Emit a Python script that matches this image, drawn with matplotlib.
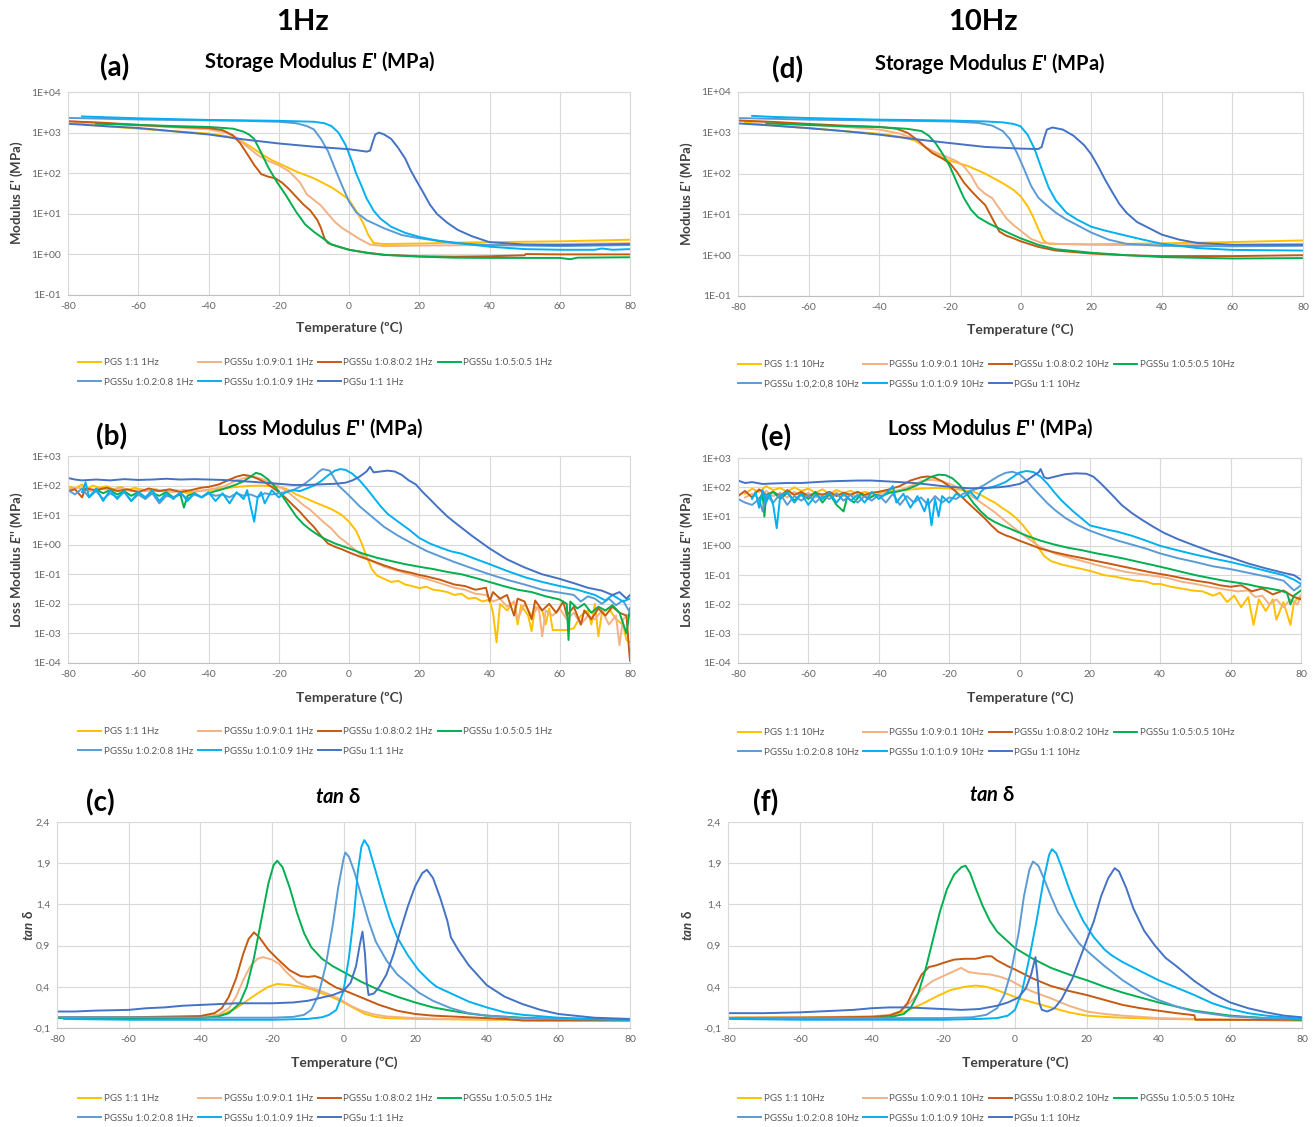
import matplotlib
matplotlib.use("Agg")
import matplotlib.pyplot as plt
from matplotlib.ticker import NullLocator

plt.rcParams['font.family'] = ['Lato', 'DejaVu Sans']
plt.rcParams['mathtext.fontset'] = 'custom'
plt.rcParams['mathtext.rm'] = 'Lato:bold'
plt.rcParams['mathtext.it'] = 'Lato:italic:bold'
plt.rcParams['mathtext.bf'] = 'Lato:bold'

# -------- Series names / colours --------
names = ["PGS 1:1", "PGSSu 1:0.9:0.1", "PGSSu 1:0.8:0.2", "PGSSu 1:0.5:0.5",
         "PGSSu 1:0.2:0.8", "PGSSu 1:0.1:0.9", "PGSu 1:1"]
names_d = ["PGS 1:1", "PGSSu 1:0.9:0.1", "PGSSu 1:0.8:0.2", "PGSSu 1:0.5:0.5",
           "PGSSu 1:0,2:0,8", "PGSSu 1:0.1:0.9", "PGSu 1:1"]
colors = ["#FFC000", "#F4B183", "#C55A11", "#00B050", "#5B9BD5", "#00B0F0", "#4472C4"]

log_ticks_a = [0.1, 1, 10, 100, 1000, 10000]
log_labels_a = ["1E-01", "1E+00", "1E+01", "1E+02", "1E+03", "1E+04"]
log_ticks_b = [1e-4, 1e-3, 1e-2, 1e-1, 1, 10, 100, 1000]
log_labels_b = ["1E-04", "1E-03", "1E-02", "1E-01", "1E+00", "1E+01", "1E+02", "1E+03"]
tan_ticks = [-0.1, 0.4, 0.9, 1.4, 1.9, 2.4]
tan_labels = ["-0,1", "0,4", "0,9", "1,4", "1,9", "2,4"]
x_ticks = [-80, -60, -40, -20, 0, 20, 40, 60, 80]

# -------- (a) Storage modulus 1Hz (T degC, MPa) --------
a_pgs = [(-78, 1700), (-70, 1450), (-60, 1250), (-50, 1080), (-40, 950), (-35, 820), (-31, 650), (-28, 450),
         (-25, 300), (-22, 210), (-19, 160), (-15, 110), (-10, 75), (-5, 45), (-2, 30), (0, 22), (2, 12),
         (4, 6), (5.5, 3), (7, 1.9), (10, 1.8), (20, 1.85), (30, 1.95), (40, 2.0), (60, 2.1), (80, 2.3)]
a_s09 = [(-80, 1900), (-70, 1700), (-60, 1500), (-50, 1350), (-40, 1200), (-35, 1000), (-32, 750), (-29, 450),
         (-26, 280), (-23, 200), (-20, 158), (-17, 110), (-14, 60), (-12, 30), (-10, 22), (-8, 16), (-6, 10),
         (-4, 6.3), (-2, 4.5), (0, 3.5), (3, 2.4), (6, 1.75), (10, 1.6), (20, 1.65), (40, 1.7), (60, 1.8), (80, 1.9)]
a_s08 = [(-80, 1900), (-70, 1750), (-60, 1550), (-50, 1400), (-40, 1300), (-36, 1150), (-33, 850), (-31, 550),
         (-29, 300), (-27, 160), (-25, 95), (-23, 82), (-21, 75), (-19, 58), (-17, 40), (-15, 26), (-13, 17),
         (-11, 12), (-9, 7), (-8, 4.5), (-7, 2.5), (-6, 1.9), (-3, 1.55), (0, 1.3), (5, 1.1), (10, 0.98),
         (20, 0.9), (30, 0.88), (40, 0.9), (50, 0.95), (50.3, 1.02), (60, 1.0), (80, 1.0)]
a_s05 = [(-72, 1650), (-60, 1550), (-50, 1450), (-40, 1380), (-33, 1250), (-30, 1050), (-28.5, 900), (-27, 700),
         (-25, 320), (-23, 140), (-20.5, 60), (-18, 29), (-15, 11), (-12.5, 5.5), (-10, 3.6), (-5, 1.75),
         (0, 1.3), (5, 1.1), (10, 0.97), (20, 0.88), (30, 0.83), (40, 0.82), (60, 0.82), (63, 0.76), (65, 0.83),
         (80, 0.85)]
a_s02 = [(-80, 2300), (-70, 2200), (-60, 2100), (-50, 2050), (-40, 2000), (-30, 1950), (-20, 1850), (-15, 1700),
         (-12, 1450), (-10, 1200), (-8, 700), (-6, 350), (-4, 130), (-2, 50), (0, 20), (2, 11), (5, 7),
         (10, 4.4), (15, 3.0), (20, 2.5), (30, 1.9), (40, 1.7), (60, 1.6), (80, 1.7)]
a_s01 = [(-76, 2500), (-70, 2400), (-60, 2250), (-50, 2150), (-40, 2050), (-30, 2000), (-20, 1950), (-10, 1850),
         (-7, 1700), (-5, 1450), (-3, 1000), (-1, 500), (1, 180), (2, 100), (3.5, 50), (5, 24), (7, 12),
         (9, 7.5), (12, 4.8), (16, 3.4), (20, 2.7), (25, 2.2), (30, 1.95), (40, 1.55), (50, 1.35), (60, 1.3),
         (70, 1.3), (72, 1.4), (75, 1.3), (80, 1.35)]
a_gsu = [(-80, 1650), (-70, 1450), (-60, 1300), (-50, 1080), (-40, 900), (-30, 680), (-20, 540), (-10, 450),
         (0, 390), (3, 360), (5, 340), (6, 360), (6.8, 600), (7.5, 900), (8.5, 1000), (10, 900), (12, 700),
         (14, 420), (16, 230), (17.5, 120), (19, 70), (21, 35), (23, 17), (25, 10), (28, 6), (31, 4), (35, 2.8),
         (40, 2.0), (50, 1.75), (60, 1.7), (80, 1.8)]

# -------- (d) Storage modulus 10Hz --------
d_pgs = [(-78, 1800), (-70, 1500), (-60, 1300), (-50, 1100), (-40, 950), (-34, 800), (-30, 650), (-27, 450),
         (-24, 300), (-21, 220), (-18, 185), (-15, 155), (-10, 100), (-5, 58), (-2, 40), (0, 28), (2, 16),
         (3.5, 9), (5, 4.5), (6.5, 2.3), (8, 1.9), (20, 1.85), (40, 1.95), (60, 2.1), (80, 2.3)]
d_s09 = [(-80, 2000), (-70, 1800), (-60, 1600), (-50, 1400), (-40, 1200), (-34, 950), (-30, 700), (-27, 450),
         (-24, 330), (-21, 260), (-18, 200), (-16, 150), (-14, 90), (-12, 45), (-10, 32), (-8, 25), (-6, 14),
         (-4, 8), (-2, 5.5), (0, 4), (3, 2.5), (6, 2.0), (10, 1.9), (20, 1.8), (40, 1.75), (60, 1.8), (80, 1.9)]
d_s08 = [(-80, 2000), (-70, 1850), (-60, 1650), (-50, 1500), (-40, 1400), (-35, 1250), (-32, 1000), (-29, 650),
         (-27, 450), (-25, 320), (-22, 230), (-20, 180), (-18, 110), (-16, 60), (-14, 38), (-12, 25), (-10, 17),
         (-8, 8), (-6, 3.8), (-4, 3.0), (-2, 2.6), (0, 2.2), (5, 1.6), (10, 1.3), (20, 1.1), (30, 1.0),
         (40, 0.95), (60, 0.95), (80, 1.0)]
d_s05 = [(-72, 1700), (-60, 1550), (-50, 1450), (-40, 1380), (-32, 1250), (-28, 1100), (-26, 850), (-24, 550),
         (-22, 300), (-20, 150), (-18, 60), (-16, 25), (-14, 13), (-12, 8.5), (-9, 6), (-6, 4.5), (-3, 3.4),
         (0, 2.6), (5, 1.8), (10, 1.4), (20, 1.15), (30, 1.0), (40, 0.9), (60, 0.83), (80, 0.85)]
d_s02 = [(-80, 2300), (-70, 2200), (-60, 2100), (-50, 2050), (-40, 2000), (-30, 1950), (-20, 1900), (-12, 1750),
         (-8, 1500), (-5, 1100), (-3, 700), (-1, 320), (1, 130), (3, 50), (5, 26), (7, 18), (10, 11), (13, 7.5),
         (16, 5.5), (20, 3.6), (25, 2.4), (30, 1.9), (40, 1.7), (60, 1.65), (80, 1.7)]
d_s01 = [(-76, 2600), (-70, 2450), (-60, 2300), (-50, 2200), (-40, 2100), (-30, 2050), (-20, 2000), (-10, 1900),
         (-5, 1800), (-2, 1650), (0, 1450), (2, 900), (4, 400), (6, 130), (8, 45), (10, 22), (13, 11), (16, 7.5),
         (20, 5), (24, 4), (28, 3.3), (33, 2.6), (40, 1.9), (50, 1.5), (60, 1.35), (80, 1.3)]
d_gsu = [(-80, 1700), (-70, 1500), (-60, 1300), (-50, 1100), (-40, 900), (-30, 700), (-20, 560), (-10, 450),
         (0, 410), (5, 400), (6, 450), (6.8, 800), (7.5, 1200), (9, 1350), (12, 1200), (15, 850), (18, 500),
         (20, 300), (22, 150), (24, 70), (26, 35), (28, 18), (30, 11), (33, 6.5), (36, 4.8), (40, 3.2),
         (45, 2.4), (50, 2.0), (60, 1.8), (80, 1.8)]

# -------- (b) Loss modulus 1Hz --------
b_pgs = [(-80, 95), (-78, 80), (-76, 110), (-75, 70), (-73, 100), (-71, 85), (-69, 95), (-67, 75), (-65, 90),
         (-63, 70), (-61, 85), (-58, 65), (-55, 75), (-52, 60), (-49, 70), (-46, 55), (-43, 65), (-40, 70),
         (-36, 80), (-32, 90), (-28, 98), (-25, 100), (-22, 95), (-19, 85), (-17, 70), (-15, 50), (-12, 36),
         (-10, 28), (-7, 20), (-5, 16), (-2, 10), (0, 6), (2, 3), (3.5, 1.2), (5, 0.4), (6.5, 0.15), (8, 0.09),
         (10, 0.07), (12, 0.055), (14, 0.06), (16, 0.045), (18, 0.04), (20, 0.034), (22, 0.038), (24, 0.03),
         (26, 0.028), (28, 0.025), (30, 0.02), (32, 0.022), (34, 0.015), (36, 0.016), (38, 0.012), (40, 0.014),
         (41, 0.005), (42, 0.0005), (43, 0.01), (45, 0.006), (47, 0.012), (48, 0.002), (49, 0.009), (51, 0.004),
         (52, 0.0012), (53, 0.008), (55, 0.006), (56, 0.002), (57, 0.007), (58, 0.0013), (60, 0.0013),
         (62, 0.0013), (64, 0.0015), (66, 0.004), (68, 0.006), (69, 0.002), (70, 0.01), (71, 0.0008),
         (72, 0.005), (74, 0.007), (76, 0.003), (78, 0.002), (79, 0.0006), (80, 0.0005)]
b_s09 = [(-80, 75), (-77, 85), (-74, 65), (-71, 80), (-68, 70), (-65, 80), (-62, 65), (-59, 75), (-56, 60),
         (-53, 70), (-50, 60), (-47, 72), (-44, 62), (-41, 70), (-38, 80), (-35, 100), (-32, 150), (-29, 190),
         (-27, 200), (-25, 170), (-23, 140), (-21, 110), (-19, 80), (-17, 55), (-15, 35), (-13, 22), (-11, 15),
         (-9, 9), (-7, 5.5), (-5, 3.5), (-3, 1.9), (0, 1.0), (3, 0.5), (6, 0.3), (10, 0.18), (14, 0.13),
         (18, 0.095), (20, 0.08), (22, 0.07), (26, 0.05), (30, 0.035), (33, 0.03), (36, 0.022), (39, 0.02),
         (41, 0.012), (43, 0.015), (45, 0.008), (47, 0.012), (48, 0.003), (50, 0.01), (52, 0.004), (54, 0.008),
         (55, 0.0008), (56, 0.006), (58, 0.004), (60, 0.007), (62, 0.003), (64, 0.005), (66, 0.002),
         (68, 0.004), (70, 0.003), (72, 0.006), (74, 0.002), (76, 0.004), (77, 0.0004), (78, 0.003), (80, 0.005)]
b_s08 = [(-80, 65), (-78, 75), (-76, 40), (-75, 80), (-72, 70), (-69, 85), (-66, 65), (-63, 75), (-60, 60),
         (-57, 80), (-54, 65), (-51, 75), (-48, 60), (-45, 70), (-42, 85), (-40, 90), (-37, 110), (-34, 160),
         (-32, 200), (-30, 230), (-28, 210), (-26, 170), (-24, 130), (-22, 90), (-20, 60), (-18, 38), (-16, 22),
         (-14, 13), (-12, 7), (-10, 4), (-8, 2), (-6, 1.1), (-4, 0.85), (-2, 0.7), (0, 0.55), (3, 0.4), (6, 0.3),
         (10, 0.2), (14, 0.14), (18, 0.11), (20, 0.095), (22, 0.085), (26, 0.065), (30, 0.045), (33, 0.04),
         (36, 0.03), (39, 0.035), (40, 0.012), (41, 0.025), (43, 0.015), (45, 0.02), (47, 0.004), (48, 0.015),
         (50, 0.012), (52, 0.003), (53, 0.013), (55, 0.006), (57, 0.01), (59, 0.005), (61, 0.012), (62, 0.004),
         (64, 0.008), (66, 0.002), (67, 0.006), (69, 0.003), (71, 0.007), (73, 0.004), (75, 0.008), (77, 0.005),
         (79, 0.004), (79.7, 0.0003), (80, 0.00012)]
b_s05 = [(-72, 75), (-70, 55), (-68, 70), (-66, 50), (-64, 65), (-62, 45), (-60, 60), (-58, 40), (-56, 55),
         (-54, 45), (-52, 60), (-50, 40), (-48, 50), (-47, 18), (-46, 45), (-44, 55), (-42, 40), (-40, 55),
         (-38, 65), (-36, 75), (-34, 90), (-32, 110), (-30, 140), (-28, 200), (-26.5, 270), (-25, 240),
         (-23, 160), (-21, 90), (-19, 45), (-17, 20), (-15, 9), (-13, 5), (-11, 3.2), (-9, 2.2), (-7, 1.6),
         (-4, 1.1), (0, 0.75), (4, 0.5), (8, 0.36), (12, 0.28), (16, 0.22), (20, 0.18), (24, 0.15), (28, 0.12),
         (32, 0.1), (36, 0.075), (40, 0.055), (44, 0.04), (48, 0.03), (52, 0.025), (56, 0.018), (60, 0.014),
         (62, 0.01), (62.5, 0.0006), (63, 0.012), (65, 0.007), (67, 0.01), (69, 0.005), (71, 0.008), (73, 0.006),
         (75, 0.009), (77, 0.005), (79, 0.001), (80, 0.007)]
b_s02 = [(-80, 70), (-78, 50), (-76, 80), (-74, 40), (-72, 65), (-70, 35), (-68, 55), (-66, 40), (-64, 60),
         (-62, 30), (-60, 50), (-58, 35), (-56, 55), (-54, 25), (-52, 45), (-50, 40), (-48, 55), (-46, 35),
         (-44, 50), (-42, 40), (-40, 55), (-38, 45), (-36, 50), (-34, 40), (-32, 55), (-30, 45), (-28, 50),
         (-26, 40), (-24, 55), (-22, 50), (-20, 55), (-18, 60), (-16, 70), (-14, 90), (-12, 130), (-10, 200),
         (-8.5, 300), (-7.5, 360), (-5.5, 320), (-3, 100), (-1, 60), (1, 35), (3, 20), (6, 10), (10, 4),
         (14, 2.0), (18, 1.1), (22, 0.62), (26, 0.4), (30, 0.26), (35, 0.16), (40, 0.1), (45, 0.065),
         (50, 0.045), (55, 0.03), (60, 0.024), (64, 0.02), (66, 0.012), (68, 0.018), (70, 0.015), (72, 0.01),
         (74, 0.015), (76, 0.009), (78, 0.013), (80, 0.005)]
b_s01 = [(-76, 60), (-75, 130), (-74, 40), (-72, 80), (-70, 30), (-68, 70), (-66, 35), (-64, 65), (-62, 30),
         (-60, 60), (-58, 40), (-56, 70), (-54, 30), (-52, 55), (-50, 35), (-48, 60), (-46, 30), (-44, 55),
         (-42, 40), (-40, 60), (-38, 30), (-36, 55), (-34, 25), (-32, 60), (-30, 35), (-29, 70), (-28, 20),
         (-27, 6), (-26, 40), (-25, 60), (-24, 25), (-22, 70), (-20, 40), (-18, 60), (-16, 70), (-14, 65),
         (-12, 80), (-10, 100), (-8, 140), (-6, 220), (-4, 320), (-2.5, 360), (-1, 340), (1, 250), (3, 150),
         (5, 80), (7, 40), (9, 20), (11, 11), (14, 6), (17, 3.3), (20, 1.7), (23, 1.1), (26, 0.8), (29, 0.6),
         (32, 0.5), (36, 0.33), (40, 0.22), (45, 0.13), (50, 0.08), (55, 0.055), (60, 0.04), (65, 0.03),
         (70, 0.02), (73, 0.013), (75, 0.02), (78, 0.012), (80, 0.015)]
b_gsu = [(-80, 180), (-78, 160), (-76, 150), (-72, 160), (-68, 150), (-64, 165), (-60, 155), (-56, 160),
         (-52, 170), (-48, 160), (-44, 165), (-40, 160), (-36, 155), (-32, 145), (-28, 135), (-24, 125),
         (-20, 115), (-16, 105), (-12, 105), (-8, 110), (-4, 115), (-1, 125), (1, 150), (3, 200), (5, 300),
         (6, 430), (7, 280), (9, 300), (11, 320), (13, 300), (15, 230), (17, 150), (19, 110), (21, 60),
         (23, 35), (25, 20), (28, 9), (30, 5.8), (35, 2), (40, 0.75), (45, 0.32), (50, 0.17), (55, 0.1),
         (60, 0.07), (64, 0.05), (68, 0.035), (72, 0.028), (75, 0.02), (77, 0.025), (79, 0.015), (80, 0.02)]

# -------- (e) Loss modulus 10Hz --------
e_pgs = [(-78, 60), (-76, 90), (-74, 70), (-72, 110), (-70, 80), (-68, 95), (-66, 70), (-64, 100), (-62, 75),
         (-60, 90), (-58, 65), (-56, 85), (-54, 60), (-52, 80), (-50, 65), (-48, 75), (-46, 60), (-44, 70),
         (-42, 60), (-40, 70), (-36, 75), (-32, 82), (-28, 90), (-24, 95), (-20, 90), (-16, 80), (-13, 70),
         (-11, 55), (-9, 40), (-7, 30), (-5, 20), (-3, 14), (-1, 9), (1, 5), (3, 2.5), (5, 1.0), (7, 0.45),
         (9, 0.3), (12, 0.23), (15, 0.19), (18, 0.16), (21, 0.13), (24, 0.1), (27, 0.09), (30, 0.075),
         (33, 0.065), (36, 0.06), (38, 0.05), (40, 0.05), (43, 0.04), (46, 0.035), (49, 0.03), (52, 0.028),
         (55, 0.02), (57, 0.025), (59, 0.012), (61, 0.02), (63, 0.008), (65, 0.018), (66.5, 0.002), (68, 0.015),
         (70, 0.006), (72, 0.015), (73, 0.003), (75, 0.012), (77, 0.002), (78, 0.012), (80, 0.02)]
e_s09 = [(-78, 45), (-76, 60), (-74, 40), (-72, 75), (-70, 50), (-68, 65), (-66, 45), (-64, 70), (-62, 50),
         (-60, 65), (-58, 45), (-56, 60), (-54, 50), (-52, 65), (-50, 50), (-48, 60), (-46, 45), (-44, 55),
         (-42, 50), (-40, 60), (-37, 65), (-34, 80), (-31, 110), (-28, 160), (-25, 180), (-22, 160), (-19, 120),
         (-16, 80), (-13, 45), (-10, 25), (-7, 14), (-4, 7), (-2, 4.5), (0, 3), (3, 1.6), (6, 0.9), (10, 0.55),
         (14, 0.4), (18, 0.3), (22, 0.22), (26, 0.17), (30, 0.13), (34, 0.11), (38, 0.095), (42, 0.08),
         (46, 0.06), (50, 0.05), (54, 0.04), (58, 0.033), (62, 0.028), (65, 0.03), (67, 0.018), (69, 0.02),
         (71, 0.01), (73, 0.015), (75, 0.008), (77, 0.015), (79, 0.01), (80, 0.02)]
e_s08 = [(-80, 50), (-78, 75), (-76, 45), (-74, 85), (-72, 55), (-70, 70), (-68, 50), (-66, 80), (-64, 55),
         (-62, 70), (-60, 50), (-58, 65), (-56, 55), (-54, 70), (-52, 50), (-50, 65), (-48, 55), (-46, 70),
         (-44, 55), (-42, 65), (-40, 70), (-37, 85), (-34, 110), (-31, 170), (-28, 220), (-26, 235), (-24, 210),
         (-22, 160), (-20, 110), (-18, 70), (-16, 42), (-14, 25), (-12, 15), (-10, 9), (-8, 5), (-6, 3),
         (-4, 2.3), (-2, 1.9), (0, 1.5), (3, 1.1), (6, 0.8), (10, 0.6), (14, 0.47), (18, 0.38), (22, 0.3),
         (26, 0.24), (30, 0.19), (34, 0.15), (38, 0.12), (42, 0.1), (46, 0.08), (50, 0.065), (54, 0.055),
         (57, 0.045), (60, 0.04), (63, 0.045), (66, 0.028), (69, 0.035), (72, 0.022), (75, 0.03), (78, 0.018),
         (80, 0.015)]
e_s05 = [(-74, 40), (-73, 60), (-72.5, 10), (-72, 50), (-70, 70), (-68, 40), (-66, 65), (-64, 35), (-62, 60),
         (-60, 40), (-58, 70), (-56, 30), (-54, 60), (-52, 25), (-50, 15), (-49, 45), (-47, 30), (-45, 60),
         (-43, 40), (-41, 55), (-39, 50), (-37, 65), (-35, 70), (-32, 85), (-29, 120), (-27, 170), (-25, 230),
         (-23, 270), (-21, 260), (-19, 200), (-17, 120), (-15, 60), (-13, 28), (-11, 15), (-9, 9), (-7, 6.5),
         (-5, 5), (-3, 4), (0, 2.8), (3, 2.0), (6, 1.5), (10, 1.1), (14, 0.85), (18, 0.7), (22, 0.55),
         (26, 0.45), (30, 0.36), (34, 0.28), (38, 0.22), (42, 0.17), (46, 0.13), (50, 0.1), (54, 0.08),
         (58, 0.065), (62, 0.055), (65, 0.048), (68, 0.04), (71, 0.035), (74, 0.03), (76, 0.025), (77, 0.01),
         (78, 0.02), (80, 0.03)]
e_s02 = [(-80, 40), (-78, 30), (-76, 25), (-74, 40), (-73, 15), (-72, 55), (-70, 30), (-68, 60), (-66, 25),
         (-64, 50), (-62, 35), (-60, 55), (-58, 30), (-56, 50), (-54, 40), (-52, 60), (-50, 35), (-48, 55),
         (-46, 30), (-44, 50), (-42, 35), (-40, 55), (-38, 30), (-36, 60), (-34, 25), (-32, 50), (-30, 30),
         (-28, 45), (-26, 25), (-24, 50), (-22, 30), (-20, 45), (-18, 40), (-16, 60), (-14, 75), (-12, 90),
         (-10, 120), (-8, 170), (-6, 240), (-4, 310), (-2, 340), (0, 280), (2, 170), (4, 90), (6, 50), (8, 28),
         (10, 17), (13, 9), (16, 5.5), (20, 3.3), (24, 2.2), (28, 1.5), (32, 1.1), (36, 0.8), (40, 0.55),
         (45, 0.38), (50, 0.28), (55, 0.2), (60, 0.16), (65, 0.12), (70, 0.09), (75, 0.065), (78, 0.03),
         (80, 0.045)]
e_s01 = [(-76, 40), (-75, 70), (-74, 20), (-73, 80), (-72, 30), (-71, 60), (-70, 25), (-69, 4), (-68, 50),
         (-66, 70), (-64, 30), (-62, 60), (-60, 25), (-58, 55), (-56, 40), (-54, 65), (-52, 30), (-50, 60),
         (-48, 35), (-46, 55), (-44, 30), (-42, 70), (-40, 40), (-38, 60), (-36, 110), (-35, 30), (-33, 60),
         (-31, 20), (-29, 50), (-27, 15), (-26, 40), (-25, 5), (-24, 40), (-23, 10), (-22, 50), (-20, 30),
         (-18, 60), (-16, 45), (-14, 70), (-12, 40), (-11, 70), (-10, 90), (-8, 100), (-6, 120), (-4, 150),
         (-2, 220), (0, 320), (2, 360), (4, 330), (6, 230), (8, 130), (10, 65), (12, 35), (15, 16), (18, 8),
         (20, 5), (24, 3.8), (28, 3), (32, 2.2), (36, 1.5), (40, 1.0), (45, 0.7), (50, 0.5), (55, 0.37),
         (60, 0.28), (65, 0.2), (70, 0.14), (75, 0.1), (78, 0.07), (80, 0.05)]
e_gsu = [(-80, 170), (-78, 140), (-76, 150), (-73, 130), (-70, 135), (-66, 140), (-62, 140), (-58, 150),
         (-54, 160), (-50, 165), (-46, 170), (-42, 170), (-38, 160), (-34, 150), (-30, 140), (-26, 125),
         (-22, 110), (-18, 100), (-14, 92), (-10, 95), (-6, 100), (-3, 110), (0, 130), (2, 170), (4, 250),
         (5.5, 330), (6, 420), (7, 220), (8, 200), (10, 230), (13, 280), (16, 300), (19, 290), (21, 230),
         (23, 140), (25, 80), (27, 45), (29, 25), (32, 13), (35, 7.5), (38, 4.5), (41, 2.8), (45, 1.7),
         (50, 1.0), (55, 0.6), (60, 0.4), (65, 0.25), (70, 0.17), (75, 0.12), (78, 0.1), (80, 0.07)]

# -------- (c) tan delta 1Hz --------
c_pgs = [(-77, 0.03), (-60, 0.03), (-45, 0.03), (-40, 0.035), (-36, 0.05), (-33, 0.08), (-30, 0.14), (-27, 0.23),
         (-24, 0.32), (-21, 0.40), (-18.5, 0.435), (-15, 0.42), (-12, 0.40), (-9, 0.37), (-6, 0.32), (-3, 0.27),
         (0, 0.21), (3, 0.14), (6, 0.07), (9, 0.035), (12, 0.02), (20, 0.01), (40, 0.0), (60, -0.005), (80, -0.005)]
c_s09 = [(-80, 0.03), (-60, 0.03), (-40, 0.035), (-35, 0.06), (-32, 0.14), (-30, 0.28), (-28, 0.48), (-26, 0.65),
         (-24, 0.74), (-22.5, 0.76), (-20, 0.73), (-18, 0.68), (-16, 0.58), (-13, 0.46), (-10, 0.40), (-7, 0.36),
         (-4, 0.31), (-1, 0.25), (2, 0.17), (5, 0.11), (8, 0.07), (12, 0.04), (20, 0.02), (30, 0.01), (50, 0.0),
         (80, -0.005)]
c_s08 = [(-80, 0.03), (-60, 0.03), (-40, 0.045), (-36, 0.08), (-34, 0.14), (-32, 0.28), (-30, 0.5), (-28, 0.8),
         (-26.5, 0.98), (-25, 1.06), (-23.5, 1.0), (-21, 0.85), (-18, 0.72), (-15, 0.6), (-12, 0.53), (-10, 0.52),
         (-8, 0.53), (-6, 0.5), (-4, 0.44), (-2, 0.39), (0, 0.36), (5, 0.27), (10, 0.18), (15, 0.11), (20, 0.07),
         (25, 0.05), (30, 0.04), (35, 0.03), (40, 0.02), (45, 0.01), (48, 0.0), (50, -0.01), (80, -0.01)]
c_s05 = [(-80, 0.02), (-60, 0.02), (-40, 0.02), (-35, 0.04), (-32, 0.08), (-29, 0.2), (-27, 0.4), (-25, 0.75),
         (-23, 1.2), (-21, 1.65), (-19.5, 1.88), (-18.5, 1.93), (-17, 1.85), (-15, 1.6), (-13, 1.3), (-11, 1.05),
         (-9, 0.88), (-6, 0.74), (-3, 0.65), (0, 0.58), (5, 0.46), (10, 0.36), (15, 0.28), (20, 0.21),
         (25, 0.15), (30, 0.11), (35, 0.075), (40, 0.05), (50, 0.025), (60, 0.01), (80, 0.0)]
c_s02 = [(-80, 0.03), (-60, 0.03), (-40, 0.025), (-20, 0.025), (-14, 0.035), (-11, 0.06), (-9, 0.12), (-7, 0.3),
         (-5, 0.65), (-3, 1.15), (-1.5, 1.6), (0, 1.95), (0.5, 2.03), (1.5, 1.98), (3, 1.8), (5, 1.5), (7, 1.2),
         (9, 0.95), (12, 0.72), (15, 0.55), (18, 0.44), (21, 0.33), (25, 0.23), (30, 0.14), (35, 0.08),
         (40, 0.05), (50, 0.02), (60, 0.01), (80, 0.0)]
c_s01 = [(-78, 0.01), (-60, 0.0), (-40, 0.0), (-20, 0.0), (-10, 0.01), (-6, 0.03), (-4, 0.06), (-2, 0.12),
         (0, 0.35), (1.5, 0.75), (3, 1.3), (4, 1.8), (5, 2.1), (5.8, 2.18), (7, 2.1), (9, 1.8), (11, 1.5),
         (13, 1.22), (15, 1.0), (18, 0.78), (21, 0.6), (24, 0.47), (26, 0.4), (30, 0.32), (35, 0.22), (40, 0.15),
         (45, 0.09), (50, 0.06), (60, 0.025), (70, 0.01), (80, 0.0)]
c_gsu = [(-80, 0.1), (-75, 0.1), (-70, 0.11), (-65, 0.115), (-60, 0.12), (-55, 0.14), (-50, 0.15), (-45, 0.17),
         (-40, 0.18), (-35, 0.19), (-30, 0.2), (-20, 0.2), (-14, 0.21), (-10, 0.23), (-6, 0.27), (-3, 0.3),
         (0, 0.35), (2, 0.45), (3.5, 0.65), (4.5, 0.9), (5.3, 1.07), (6, 0.8), (6.5, 0.45), (7, 0.3), (8.5, 0.32),
         (10, 0.4), (12, 0.55), (14, 0.8), (16, 1.1), (18, 1.38), (20, 1.62), (22, 1.78), (23.3, 1.82),
         (25, 1.72), (27, 1.48), (29, 1.2), (30, 1.0), (32, 0.85), (35, 0.66), (40, 0.42), (45, 0.28),
         (50, 0.19), (55, 0.12), (60, 0.07), (70, 0.025), (80, 0.01)]

# -------- (f) tan delta 10Hz --------
f_pgs = [(-78, 0.03), (-60, 0.03), (-45, 0.035), (-38, 0.04), (-34, 0.06), (-30, 0.11), (-26, 0.19), (-22, 0.28),
         (-18, 0.36), (-14, 0.4), (-11, 0.415), (-8, 0.4), (-5, 0.36), (-2, 0.31), (1, 0.26), (5, 0.21),
         (10, 0.15), (15, 0.09), (20, 0.05), (25, 0.035), (30, 0.025), (40, 0.01), (50, 0.005), (60, 0.0),
         (80, -0.01)]
f_s09 = [(-80, 0.03), (-60, 0.03), (-40, 0.04), (-35, 0.06), (-32, 0.1), (-29, 0.22), (-26, 0.37), (-23, 0.47),
         (-20, 0.53), (-17, 0.59), (-15, 0.63), (-13, 0.58), (-10, 0.56), (-7, 0.55), (-4, 0.52), (-1, 0.47),
         (2, 0.4), (5, 0.34), (10, 0.26), (15, 0.17), (20, 0.1), (25, 0.07), (30, 0.05), (40, 0.02), (50, 0.01),
         (60, 0.0), (80, -0.01)]
f_s08 = [(-80, 0.02), (-60, 0.025), (-40, 0.035), (-35, 0.05), (-32, 0.1), (-30, 0.2), (-28, 0.38), (-26, 0.55),
         (-24, 0.64), (-22, 0.66), (-20, 0.69), (-17, 0.73), (-14, 0.74), (-11, 0.74), (-8, 0.77), (-6.5, 0.77),
         (-5, 0.72), (-2, 0.65), (0, 0.61), (5, 0.5), (10, 0.41), (15, 0.35), (20, 0.3), (25, 0.24), (30, 0.18),
         (35, 0.14), (40, 0.11), (45, 0.08), (50, 0.055), (50.3, 0.0), (80, 0.0)]
f_s05 = [(-80, 0.02), (-60, 0.02), (-40, 0.02), (-35, 0.03), (-31, 0.07), (-29, 0.15), (-27, 0.32), (-25, 0.6),
         (-23, 0.95), (-21, 1.3), (-19, 1.58), (-17, 1.76), (-15, 1.85), (-13.8, 1.87), (-12.5, 1.78),
         (-11, 1.6), (-9, 1.38), (-7, 1.2), (-5, 1.07), (-2, 0.95), (0, 0.87), (5, 0.74), (10, 0.63), (15, 0.55),
         (20, 0.48), (25, 0.4), (30, 0.33), (35, 0.27), (40, 0.21), (45, 0.16), (50, 0.11), (55, 0.08),
         (60, 0.05), (70, 0.02), (80, 0.0)]
f_s02 = [(-80, 0.02), (-60, 0.02), (-40, 0.02), (-20, 0.02), (-12, 0.03), (-8, 0.06), (-5, 0.14), (-3, 0.3),
         (-1, 0.6), (1, 1.05), (2.5, 1.5), (4, 1.82), (5, 1.92), (6.5, 1.87), (8, 1.72), (10, 1.5), (12, 1.3),
         (15, 1.1), (18, 0.92), (21, 0.8), (25, 0.65), (30, 0.48), (35, 0.34), (40, 0.24), (45, 0.16),
         (50, 0.1), (60, 0.04), (70, 0.02), (80, 0.01)]
f_s01 = [(-80, 0.01), (-60, 0.0), (-40, 0.0), (-20, 0.0), (-10, 0.01), (-5, 0.02), (-2, 0.05), (0, 0.12),
         (2, 0.35), (4, 0.75), (6, 1.2), (8, 1.7), (9.5, 2.0), (10.3, 2.07), (11.5, 2.02), (13, 1.85),
         (15, 1.6), (17, 1.38), (19, 1.2), (22, 1.0), (25, 0.85), (27, 0.78), (30, 0.7), (35, 0.59), (40, 0.48),
         (45, 0.39), (50, 0.3), (55, 0.2), (60, 0.13), (65, 0.08), (70, 0.05), (80, 0.01)]
f_gsu = [(-80, 0.08), (-70, 0.08), (-60, 0.09), (-50, 0.11), (-45, 0.12), (-40, 0.14), (-35, 0.15), (-30, 0.15),
         (-25, 0.14), (-20, 0.13), (-15, 0.12), (-10, 0.13), (-5, 0.17), (-2, 0.21), (1, 0.27), (3, 0.38),
         (4.5, 0.55), (5.7, 0.76), (6.3, 0.5), (6.8, 0.2), (7.5, 0.12), (9, 0.1), (11, 0.14), (13, 0.25),
         (16, 0.5), (19, 0.85), (22, 1.2), (24, 1.5), (26, 1.72), (27.8, 1.84), (29, 1.8), (31, 1.6), (33, 1.35),
         (36, 1.08), (39, 0.9), (42, 0.75), (45, 0.65), (50, 0.47), (55, 0.32), (60, 0.21), (65, 0.14),
         (70, 0.09), (75, 0.05), (80, 0.03)]

W, H = 1314, 1127
fig = plt.figure(figsize=(W / 100, H / 100), dpi=100)


def box(l, r, t, b):
    return [l / W, 1 - b / H, (r - l) / W, (b - t) / H]


def fx(px):
    return px / W


def fy(py):
    return 1 - py / H


def panel(rect, series, labels, freq, kind, leg_xy):
    ax = fig.add_axes(rect)
    handles = []
    for s, lab, c in zip(series, labels, colors):
        xs = [p[0] for p in s]
        ys = [p[1] for p in s]
        h, = ax.plot(xs, ys, color=c, lw=1.4, label=f"{lab} {freq}")
        handles.append(h)
    ax.set_xlim(-80, 80)
    ax.set_xticks(x_ticks)
    ax.set_xticklabels([str(v) for v in x_ticks])
    if kind == "tan":
        ax.set_ylim(-0.1, 2.4)
        ax.set_yticks(tan_ticks)
        ax.set_yticklabels(tan_labels)
    else:
        ax.set_yscale("log")
        tk, tl = (log_ticks_a, log_labels_a) if kind == "E1" else (log_ticks_b, log_labels_b)
        ax.set_ylim(tk[0], tk[-1])
        ax.set_yticks(tk)
        ax.set_yticklabels(tl)
        ax.yaxis.set_minor_locator(NullLocator())
    ax.grid(True, color="#D9D9D9", lw=0.8)
    ax.set_axisbelow(True)
    for sp in ax.spines.values():
        sp.set_color("#D9D9D9")
        sp.set_linewidth(0.8)
    ax.spines["bottom"].set_color("#BFBFBF")
    ax.tick_params(length=0, labelsize=7.5, colors="#666666", pad=5)
    # legend in row-major order (4 + 3)
    order = [0, 4, 1, 5, 2, 6, 3]
    ax.legend([handles[i] for i in order], [handles[i].get_label() for i in order],
              ncol=4, loc="upper left", bbox_to_anchor=(fx(leg_xy[0]), fy(leg_xy[1])),
              bbox_transform=fig.transFigure, frameon=False, fontsize=7.0,
              handlelength=2.4, handletextpad=0.25, columnspacing=0.5, labelspacing=1.1,
              borderpad=0, borderaxespad=0, labelcolor="#595959")
    return ax


panel(box(68, 630, 92, 295), [a_pgs, a_s09, a_s08, a_s05, a_s02, a_s01, a_gsu], names, "1Hz", "E1", (78, 358))
panel(box(68, 630, 456, 663), [b_pgs, b_s09, b_s08, b_s05, b_s02, b_s01, b_gsu], names, "1Hz", "E2", (78, 727))
panel(box(57, 630, 822, 1028), [c_pgs, c_s09, c_s08, c_s05, c_s02, c_s01, c_gsu], names, "1Hz", "tan", (78, 1094))
panel(box(738, 1303, 92, 296), [d_pgs, d_s09, d_s08, d_s05, d_s02, d_s01, d_gsu], names_d, "10Hz", "E1", (738, 360))
panel(box(738, 1301, 458, 663), [e_pgs, e_s09, e_s08, e_s05, e_s02, e_s01, e_gsu], names, "10Hz", "E2", (738, 728))
panel(box(728, 1302, 822, 1028), [f_pgs, f_s09, f_s08, f_s05, f_s02, f_s01, f_gsu], names, "10Hz", "tan", (738, 1094))

# -------- Headers, titles, labels --------
fig.text(fx(303), fy(22), "1Hz", ha="center", va="center", fontsize=21, fontweight="bold")
fig.text(fx(983), fy(22), "10Hz", ha="center", va="center", fontsize=21, fontweight="bold")

titles = [(115, 68, "(a)", 320, 62, "Storage Modulus $E$' (MPa)"),
          (112, 437, "(b)", 320, 428, "Loss Modulus $E$'' (MPa)"),
          (100, 803, "(c)", 338, 797, "$tan$ δ"),
          (788, 70, "(d)", 990, 63, "Storage Modulus $E$' (MPa)"),
          (776, 438, "(e)", 990, 428, "Loss Modulus $E$'' (MPa)"),
          (766, 803, "(f)", 992, 795, "$tan$ δ")]
for lx, ly, lt, tx, ty, tt in titles:
    fig.text(fx(lx), fy(ly), lt, ha="center", va="center", fontsize=20, fontweight="bold")
    fig.text(fx(tx), fy(ty), tt, ha="center", va="center", fontsize=14.5, fontweight="bold")

xlabels = [(349, 328), (349, 698), (344, 1063), (1020, 330), (1020, 698), (1015, 1063)]
for x, y in xlabels:
    fig.text(fx(x), fy(y), "Temperature (ºC)", ha="center", va="center", fontsize=10, fontweight="bold",
             color="#404040")

ylabels = [(17, 193, "Modulus $E$' (MPa)"), (17, 560, "Loss Modulus $E$'' (MPa)"), (28, 925, "$tan$ δ"),
           (687, 194, "Modulus $E$' (MPa)"), (687, 560, "Loss Modulus $E$'' (MPa)"), (687, 925, "$tan$ δ")]
for x, y, t in ylabels:
    fig.text(fx(x), fy(y), t, ha="center", va="center", rotation=90, fontsize=9.5, fontweight="bold",
             color="#404040")

fig.savefig("out.png", dpi=100)
